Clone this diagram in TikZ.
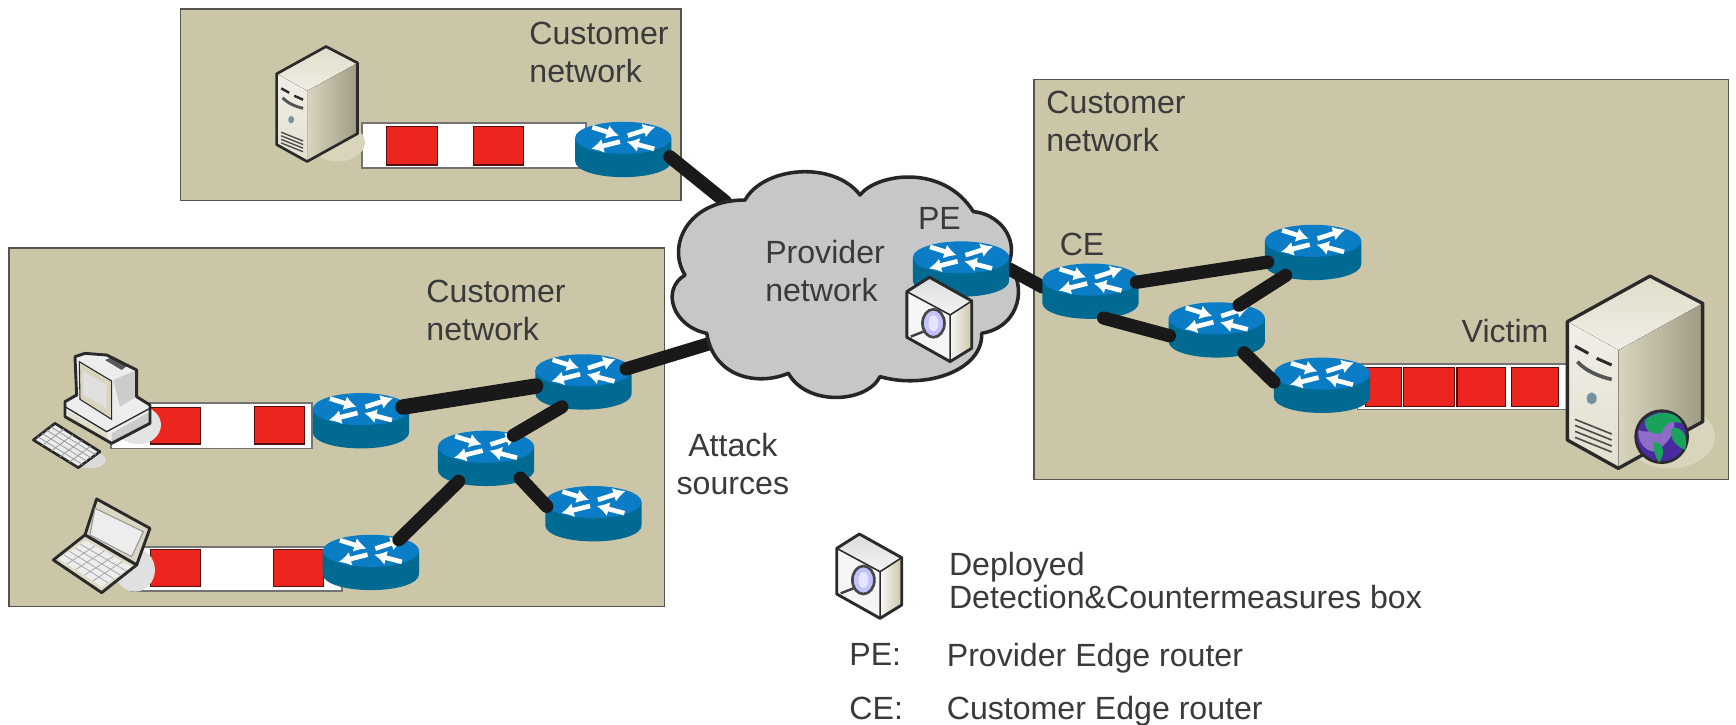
\documentclass[tikz,border=0pt]{standalone}
\usepackage{fontspec}
\setmainfont{Liberation Sans}
\usetikzlibrary{shapes.geometric,arrows.meta}
\definecolor{netfill}{HTML}{CCC6A8}
\definecolor{netline}{HTML}{55554D}
\definecolor{txtgray}{HTML}{3A3A3A}
\definecolor{rtop}{HTML}{0B7CC6}
\definecolor{rside}{HTML}{006A93}
\definecolor{qred}{HTML}{EC261E}
\definecolor{cloudfill}{HTML}{C6C7C9}
\definecolor{shadowc}{HTML}{D9D4BC}
\definecolor{iconline}{HTML}{2A2A2A}
\definecolor{globeblue}{HTML}{4A2AA0}
\definecolor{globepurple}{HTML}{8E6CC8}
\definecolor{globegreen}{HTML}{1AA25C}
\tikzset{
  netbox/.style={fill=netfill,draw=netline,line width=1.3pt},
  queuebar/.style={fill=white,draw=gray!90!black,line width=1.5pt},
  pkt/.style={fill=qred,draw=black!65!qred,line width=1pt},
  lbl/.style={font=\fontsize{29}{34}\selectfont,text=txtgray,inner sep=0pt,anchor=north west,align=left},
  rnode/.style={shape=ellipse,minimum width=87pt,minimum height=50pt,inner sep=0pt},
  lnk/.style={draw=black!90,line width=12pt,line cap=round},
  lnkb/.style={draw=black!90,line width=14pt,line cap=round},
  rarrow/.style={draw=white,line width=4.2pt,-{Latex[length=11pt,width=13pt]}},
  routerpic/.pic={
    \fill[rside] (-43.5,10.5) .. controls (-43.5,19) and (-24,25) .. (0,25) .. controls (24,25) and (43.5,19) .. (43.5,10.5) -- (43.5,-10.5) -- (-43.5,-10.5) -- cycle;
    \fill[rtop] (-43.5,-10.5) .. controls (-43.5,-18.5) and (-24,-25) .. (0,-25) .. controls (24,-25) and (43.5,-18.5) .. (43.5,-10.5) .. controls (43.5,-2.5) and (24,4) .. (0,4) .. controls (-24,4) and (-43.5,-2.5) .. (-43.5,-10.5) -- cycle;
    \draw[rarrow] (-28,-20) -- (-4,-12.5);
    \draw[rarrow] (4,-12.5) -- (29,-20.5);
    \draw[rarrow] (-3,-7) -- (-29,-0.5);
    \draw[rarrow] (28,-0.5) -- (3,-7);
  }
}
% large server, drawn in zoom units
\newcommand{\serverIcon}[1]{%
  \fill[shadowc] (360,530) ellipse[x radius=135,y radius=95];
  \fill[left color=netfill!75!white,middle color=white!55!netfill,right color=netfill!78!black] (205,270) -- (458,130) -- (458,485) -- (205,625) -- cycle;
  \fill[top color=white!40!netfill,bottom color=white!70!netfill] (52,185) -- (300,48) -- (458,130) -- (205,270) -- cycle;
  \fill[top color=white!72!netfill,bottom color=white!45!netfill] (52,185) -- (205,270) -- (205,625) -- (52,540) -- cycle;
  \draw[iconline,line width=#1pt,line join=round] (300,48) -- (458,130) -- (458,485) -- (205,625) -- (52,540) -- (52,185) -- cycle;
  \draw[iconline,line width=#1*0.9pt] (75,258) -- (115,280) (140,295) -- (185,315);
  \draw[iconline!80,line width=#1*1.1pt] (82,305) .. controls (110,335) and (150,350) .. (185,358);
  \fill[black!30!cyan!40!gray] (125,415) ellipse[x radius=15,y radius=18];
  \foreach \yy in {0,18,36,54} \draw[iconline!85,line width=#1*0.5pt] (75,{478+\yy}) -- (185,{522+\yy});
}
% detection box, zoom units
\newcommand{\detectBox}{%
  \fill[top color=black!14,bottom color=black!4] (50,85) -- (118,42) -- (245,113) -- (180,155) -- cycle;
  \fill[black!4] (50,85) -- (180,155) -- (180,295) -- (50,222) -- cycle;
  \fill[left color=black!3,right color=netfill] (180,155) -- (245,113) -- (245,255) -- (180,295) -- cycle;
  \draw[iconline,line width=2.6pt,line join=round] (50,85) -- (118,42) -- (245,113) -- (245,255) -- (180,295) -- (50,222) -- cycle;
  \draw[iconline,line width=1.4pt] (50,85) -- (180,155) -- (180,295) (180,155) -- (245,113);
  \draw[black!75,line width=2.2pt] (100,205) -- (62,220);
  \fill[blue!24!white,draw=black!72,line width=2.4pt] (130,180) ellipse[x radius=33,y radius=42];
  \fill[blue!10!white] (130,180) ellipse[x radius=15,y radius=24];
}
\begin{document}
\begin{tikzpicture}[x=1pt,y=-1pt]
\useasboundingbox (0,0) rectangle (1568,654.8);
\fill[white] (0,0) rectangle (1568,654.8);
% customer network areas
\draw[netbox] (163,8) rectangle (615,181);
\draw[netbox] (8,224) rectangle (600,548);
\draw[netbox] (934,72) rectangle (1561,433);
% queues
\draw[queuebar] (327,111) rectangle (529,152);
\draw[pkt] (349,114) rectangle (395,149);
\draw[pkt] (428,114) rectangle (473,149);
\draw[queuebar] (100,364) rectangle (282,405);
\draw[pkt] (136,368) rectangle (181,401);
\draw[pkt] (230,367) rectangle (275,401);
\draw[queuebar] (119,494) rectangle (309,534);
\draw[pkt] (136,496) rectangle (181,530);
\draw[pkt] (247,496) rectangle (292,530);
\draw[queuebar] (1226,329) rectangle (1420,370);
\draw[pkt] (1233,332) rectangle (1266,367);
\draw[pkt] (1268,332) rectangle (1314,367);
\draw[pkt] (1316,332) rectangle (1360,367);
\draw[pkt] (1365,332) rectangle (1408,367);
% servers
\begin{scope}[shift={(240.5,33.4)},x=0.18pt,y=-0.18pt]
  \serverIcon{2.4}
\end{scope}
\begin{scope}[shift={(1400,234.9)},x=0.301pt,y=-0.301pt]
  \serverIcon{3}
  \fill[globeblue,draw=iconline,line width=2.4pt] (335,530) circle[radius=78];
  \fill[globepurple] (265,510) .. controls (300,525) and (330,500) .. (370,480) .. controls (385,510) and (350,560) .. (310,575) .. controls (280,570) and (262,540) .. (265,510) -- cycle;
  \fill[globegreen] (285,480) .. controls (325,445) and (385,455) .. (395,490) .. controls (360,480) and (345,490) .. (335,520) .. controls (305,525) and (280,510) .. (285,480) -- cycle;
  \fill[globegreen] (365,505) .. controls (395,495) and (418,530) .. (405,570) .. controls (385,560) and (355,540) .. (365,505) -- cycle;
  \fill[globegreen] (312,545) .. controls (345,550) and (345,580) .. (328,608) .. controls (315,590) and (308,565) .. (312,545) -- cycle;
\end{scope}
% desktop PC
\begin{scope}[shift={(0,271)},x=0.301pt,y=-0.301pt]
  \fill[black!11!white] (415,375) ellipse[x radius=68,y radius=58];
  \fill[black!14!white] (270,480) ellipse[x radius=48,y radius=25];
  \fill[black!7] (225,170) -- (255,160) -- (320,165) -- (410,210) -- (410,290) -- (450,315) -- (450,370) -- (335,430) -- (195,350) -- (195,305) -- (230,285) -- cycle;
  \fill[netfill!75!white,draw=iconline,line width=1pt] (238,185) -- (335,243) -- (335,358) -- (240,298) -- cycle;
  \fill[black!12] (250,215) -- (320,255) -- (320,325) -- (250,285) -- cycle;
  \fill[black!65] (315,180) -- (340,170) -- (385,195) -- (365,210) -- cycle;
  \fill[black!20] (340,240) -- (410,210) -- (410,290) -- (360,320) -- cycle;
  \fill[black!20] (335,400) -- (450,335) -- (450,370) -- (335,430) -- cycle;
  \fill[netfill!60!white] (205,335) -- (320,398) -- (325,420) -- (205,350) -- cycle;
  \draw[iconline,line width=1.2pt] (195,320) -- (320,395) -- (450,325);
  \draw[iconline,line width=2.6pt,line join=round] (225,170) -- (255,160) -- (320,165) -- (410,210) -- (410,290) -- (450,315) -- (450,370) -- (335,430) -- (195,350) -- (195,305) -- (230,285) -- cycle;
  \fill[black!8,draw=iconline,line width=2.4pt,line join=round] (165,370) -- (300,455) -- (235,503) -- (100,420) -- cycle;
  \foreach \tt in {0.2,0.4,0.6,0.8} {
    \draw[black!40,line width=0.7pt] ({165+135*\tt},{370+85*\tt}) -- ({100+135*\tt},{420+83*\tt});
    \draw[black!40,line width=0.7pt] ({165-65*\tt},{370+50*\tt}) -- ({300-65*\tt},{455+48*\tt});
  }
\end{scope}
% laptop
\begin{scope}[shift={(0,271)},x=0.301pt,y=-0.301pt]
  \fill[black!12!white] (405,810) ellipse[x radius=60,y radius=65];
  \fill[netfill!70!white,draw=iconline,line width=2.6pt,line join=round] (290,597) -- (450,685) -- (410,795) -- (255,705) -- cycle;
  \fill[black!7,draw=black!40,line width=1pt] (285,625) -- (430,695) -- (395,770) -- (270,705) -- cycle;
  \fill[netfill!65!white,draw=iconline,line width=2.6pt,line join=round] (255,705) -- (410,795) -- (305,878) -- (160,780) -- cycle;
  \fill[black!7] (258,722) -- (395,800) -- (305,860) -- (175,775) -- cycle;
  \foreach \tt in {0.2,0.4,0.6,0.8} {
    \draw[black!35,line width=0.7pt] ({258+137*\tt},{722+78*\tt}) -- ({175+130*\tt},{775+85*\tt});
    \draw[black!35,line width=0.7pt] ({258-83*\tt},{722+53*\tt}) -- ({395-90*\tt},{800+60*\tt});
  }
\end{scope}
% routers (named)
\node[rnode] (A) at (563,135) {};
\node[rnode] (B) at (326,380) {};
\node[rnode] (C) at (527,345) {};
\node[rnode] (D) at (439,414) {};
\node[rnode] (E) at (536,464) {};
\node[rnode] (F) at (335,508) {};
\node[rnode] (PE) at (868,243) {};
\node[rnode] (CE) at (985,263) {};
\node[rnode] (G) at (1186,228) {};
\node[rnode] (H) at (1099,298) {};
\node[rnode] (I) at (1194,348) {};
\coordinate (cloudA) at (655,182);
\coordinate (cloudC) at (642,310);
\foreach \rr in {A,B,C,D,E,F,G,H,I} \pic at (\rr) {routerpic};
\draw[lnk] (A.-9) -- (cloudA);
\draw[lnk] (C.17) -- (cloudC);
% cloud
\begin{scope}[shift={(596.2,135.5)},x=0.301pt,y=-0.301pt]
  \draw[fill=cloudfill,draw=black!85,line width=3.2pt,line join=round]
    (255,150) .. controls (310,50) and (520,30) .. (600,135)
    .. controls (650,70) and (850,40) .. (940,185)
    .. controls (1010,190) and (1080,260) .. (1045,345)
    .. controls (1100,400) and (1085,530) .. (965,550)
    .. controls (970,660) and (800,720) .. (660,680)
    .. controls (620,760) and (440,770) .. (385,670)
    .. controls (290,710) and (160,680) .. (140,550)
    .. controls (40,530) and (0,420) .. (75,375)
    .. controls (20,290) and (80,150) .. (255,150) -- cycle;
\end{scope}
\draw[lnk] (PE.0) -- (CE.175);
\pic at (PE) {routerpic};
\pic at (CE) {routerpic};
\draw[lnkb] (B.18) -- (C.185);
\draw[lnk] (C.229) -- (D.40);
\draw[lnk] (D.-30) -- (E.171);
\draw[lnk] (D.220) -- (F.39);
\draw[lnk] (CE.11) -- (G.192);
\draw[lnk] (G.220) -- (H.48);
\draw[lnk] (CE.-64) -- (H.187);
\draw[lnk] (H.-40) -- (I.176);
% detection boxes
\begin{scope}[shift={(804,237.8)},x=0.301pt,y=-0.301pt]\detectBox\end{scope}
\begin{scope}[shift={(740.7,469.7)},x=0.301pt,y=-0.301pt]\detectBox\end{scope}
% labels
\node[lbl] (t1) at (478,20) {Customer\\network};
\node[lbl] (t2) at (945,82) {Customer\\network};
\node[lbl] (t3) at (385,253) {Customer\\network};
\node[lbl] (t4) at (691,217) {Provider\\network};
\node[lbl] (t5) at (829,187) {PE};
\node[lbl] (t6) at (957,210) {CE};
\node[lbl] (t7) at (1320,288) {Victim};
\node[lbl,align=center] (t8) at (611,391) {Attack\\sources};
\node[lbl,font=\fontsize{29}{29}\selectfont] (t9) at (857,499) {Deployed\\Detection\&Countermeasures box};
\node[lbl] (t10) at (767,581) {PE:};
\node[lbl] (t11) at (855,581) {Provider Edge router};
\node[lbl] (t12) at (767,629) {CE:};
\node[lbl] (t13) at (855,629) {Customer Edge router};
\end{tikzpicture}
\end{document}
